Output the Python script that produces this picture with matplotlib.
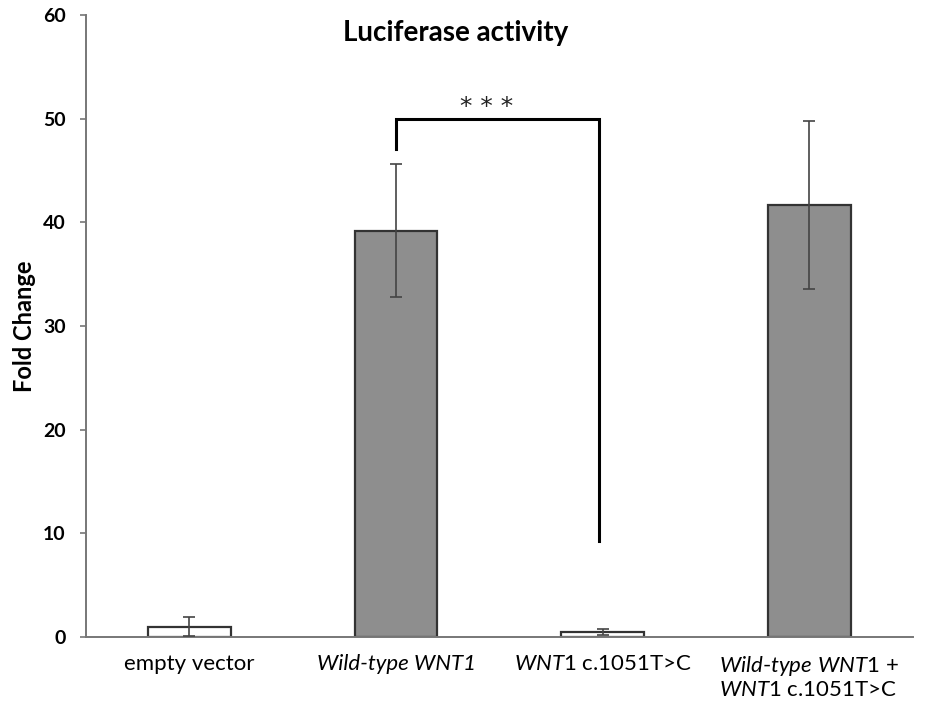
import numpy as np
import matplotlib
matplotlib.use("Agg")
import matplotlib.pyplot as plt

plt.rcParams['font.family'] = ['Lato', 'DejaVu Sans']
plt.rcParams['mathtext.fontset'] = 'custom'
plt.rcParams['mathtext.rm'] = 'Lato'
plt.rcParams['mathtext.it'] = 'Lato:italic'

# data
categories = ["empty vector",
              "Wild-type WNT1",
              r"$\mathit{WNT1}$ c.1051T>C",
              "$\\mathit{Wild}$-$\\mathit{type\\ WNT1}$ +\n$\\mathit{WNT1}$ c.1051T>C"]
fold_change = [1.0, 39.2, 0.5, 41.7]
errors = [0.95, 6.45, 0.3, 8.1]
bar_colors = ["white", "#8e8e8e", "white", "#8e8e8e"]

fig = plt.figure(figsize=(9.39, 7.09), dpi=100)
ax = fig.add_axes([0.0916, 0.1016, 0.8804, 0.8774])

x = np.arange(len(categories))
ax.bar(x, fold_change, width=0.40, color=bar_colors, edgecolor="#333333",
       linewidth=1.6, zorder=2)
ax.errorbar(x, fold_change, yerr=errors, fmt="none", ecolor="#444444",
            elinewidth=1.2, capsize=4.5, capthick=1.2, zorder=3)

ax.set_xlim(-0.5, 3.5)
ax.set_ylim(0, 60)
ax.set_yticks(np.arange(0, 61, 10))
ax.set_xticks(x)
ax.set_xticklabels(categories[:3] + [""], fontsize=16, va="top")
ax.get_xticklabels()[1].set_style("italic")
ax.tick_params(axis="x", length=0, pad=12)
ax.tick_params(axis="y", length=4.5, width=1.2, color="#777777", pad=10, labelsize=14)
for lab in ax.get_yticklabels():
    lab.set_fontweight("bold")

# last label is two lines, left aligned inside its box
ax.annotate(categories[3], xy=(x[3], 0), xycoords=("data", "axes fraction"),
            xytext=(0, -12), textcoords="offset points", ha="center", va="top",
            multialignment="left", fontsize=16, linespacing=1.15)

for side in ["top", "right"]:
    ax.spines[side].set_visible(False)
for side in ["left", "bottom"]:
    ax.spines[side].set_color("#777777")
    ax.spines[side].set_linewidth(1.4)

ax.set_ylabel("Fold Change", fontsize=17, fontweight="bold", labelpad=5)
fig.text(0.485, 0.953, "Luciferase activity", fontsize=20, fontweight="bold",
         ha="center", va="center")

# significance bracket
ax.plot([1, 1, 1.98, 1.98], [47.1, 50.0, 50.0, 9.3], color="black", lw=2.2,
        solid_joinstyle="miter", zorder=4)
ax.text(1.44, 50.4, "* * *", ha="center", va="baseline", fontsize=18,
        family="DejaVu Sans", color="#222222")

fig.savefig("out.png", dpi=100)
